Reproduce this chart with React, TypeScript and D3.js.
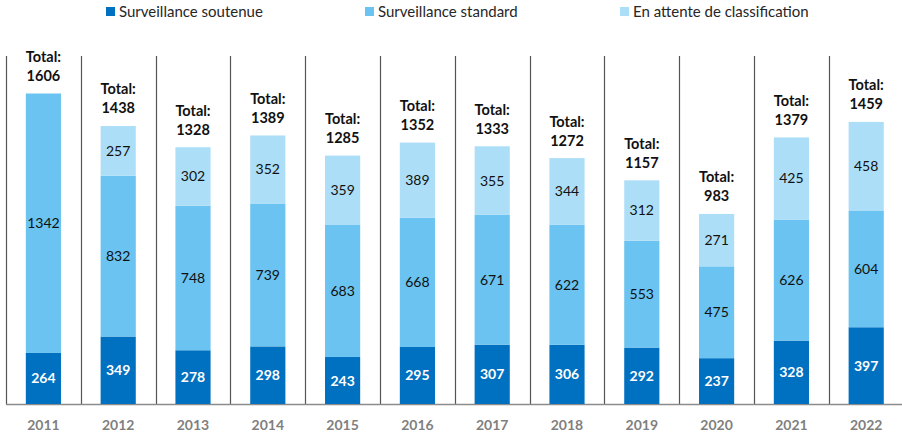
import React from 'react';
import { scaleBand, scaleLinear, stack } from 'd3';

const years = ['2011', '2012', '2013', '2014', '2015', '2016', '2017', '2018', '2019', '2020', '2021', '2022'];
const soutenue = [264, 349, 278, 298, 243, 295, 307, 306, 292, 237, 328, 397];
const standard = [1342, 832, 748, 739, 683, 668, 671, 622, 553, 475, 626, 604];
const attente = [0, 257, 302, 352, 359, 389, 355, 344, 312, 271, 425, 458];
const totals = [1606, 1438, 1328, 1389, 1285, 1352, 1333, 1272, 1157, 983, 1379, 1459];
const seriesNames = ['Surveillance soutenue', 'Surveillance standard', 'En attente de classification'];

const W = 902;
const H = 439;
const colors = ['#0070C0', '#6AC3F0', '#ADDEF7'];
const font = 'Lato, "Open Sans", sans-serif';

export default function App() {
  const x = scaleBand<string>().domain(years).range([6, 903.6]).paddingInner(0).paddingOuter(0);
  const y = scaleLinear().domain([0, 1800]).range([404, 56]);
  const barW = x.bandwidth() * 0.47;

  const rows = years.map((yr, i) => ({ year: yr, a: soutenue[i], b: standard[i], c: attente[i] }));
  const layers = stack<any>().keys(['a', 'b', 'c'])(rows);

  const legendX = [106, 365, 620];

  return (
    <svg
      width={W}
      height={H}
      style={{ position: 'absolute', left: 0, top: 0, background: '#fff' }}
      fontFamily={font}
    >
      {/* legend */}
      {seriesNames.map((n, i) => (
        <g key={n} transform={`translate(${legendX[i]},7)`}>
          <rect width={9} height={9} fill={colors[i]} />
          <text x={13} y={9.5} fontSize={15} fill="#262626">{n}</text>
        </g>
      ))}

      {/* category separators */}
      {years.map((yr) => (
        <line
          key={'sep' + yr}
          x1={Math.round(x(yr)!) + 0.5}
          x2={Math.round(x(yr)!) + 0.5}
          y1={y(1800)}
          y2={y(0)}
          stroke="#555"
          strokeWidth={1.2}
        />
      ))}
      <line x1={6} x2={W} y1={y(0) + 0.5} y2={y(0) + 0.5} stroke="#8c8c8c" strokeWidth={1.5} />

      {/* bars */}
      {layers.map((layer, li) => (
        <g key={li}>
          {layer.map((d, i) => {
            const v = d[1] - d[0];
            if (v <= 0) return null;
            const cx = x(years[i])! + x.bandwidth() / 2;
            const y0 = y(d[0]);
            const y1 = y(d[1]);
            return (
              <g key={i}>
                <rect x={cx - barW / 2} y={y1} width={barW} height={y0 - y1} fill={colors[li]} />
                <text
                  x={cx}
                  y={(y0 + y1) / 2 + 5}
                  textAnchor="middle"
                  fontSize={14}
                  fontWeight={li === 0 ? 700 : 400}
                  fill={li === 0 ? '#fff' : '#111'}
                >
                  {v}
                </text>
              </g>
            );
          })}
        </g>
      ))}

      {/* totals */}
      {years.map((yr, i) => {
        const cx = x(yr)! + x.bandwidth() / 2;
        const top = y(totals[i]);
        return (
          <g key={'t' + yr}>
            <text x={cx} y={top - 31.5} textAnchor="middle" fontSize={14.5} fontWeight={700} fill="#111">Total:</text>
            <text x={cx} y={top - 12.5} textAnchor="middle" fontSize={14.5} fontWeight={700} fill="#111">{totals[i]}</text>
          </g>
        );
      })}

      {/* x labels */}
      {years.map((yr) => (
        <text
          key={'x' + yr}
          x={x(yr)! + x.bandwidth() / 2}
          y={430}
          textAnchor="middle"
          fontSize={14}
          fontWeight={700}
          fill="#7f7f7f"
        >
          {yr}
        </text>
      ))}
    </svg>
  );
}
